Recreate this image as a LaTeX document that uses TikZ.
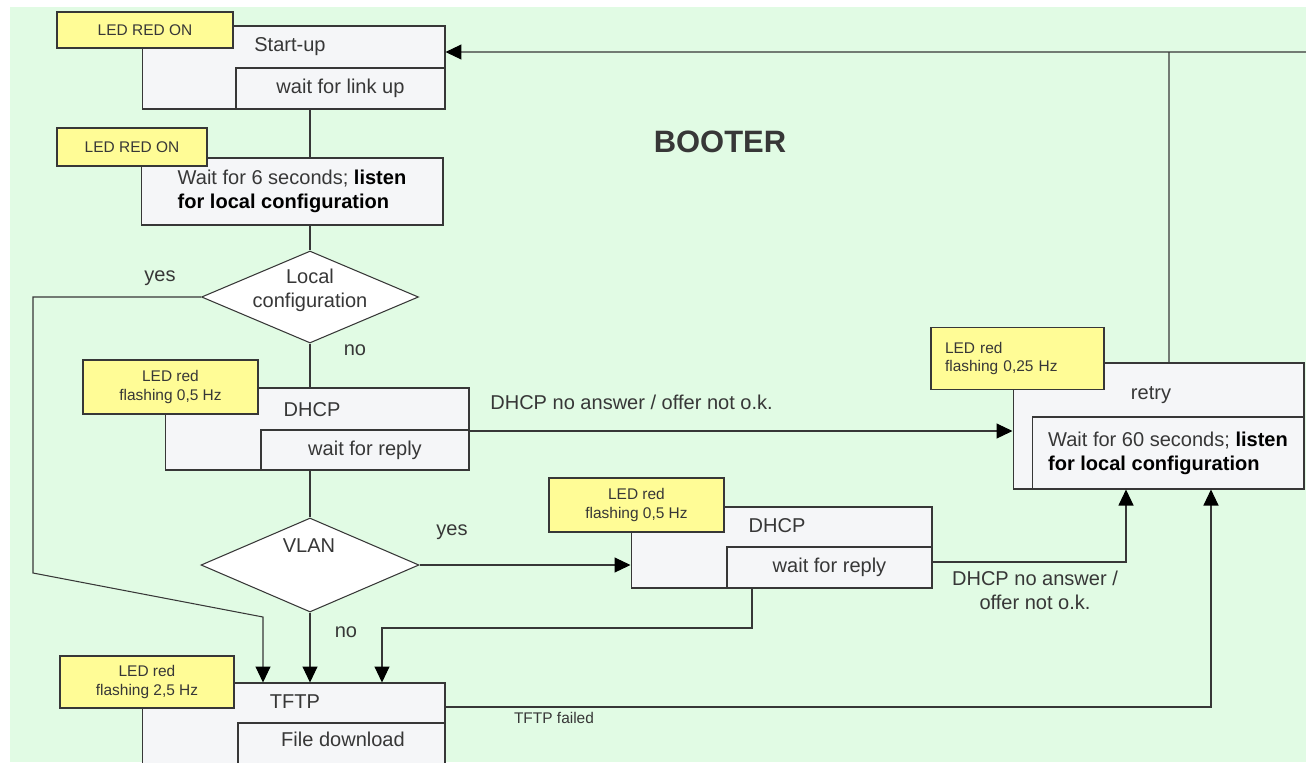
\documentclass[tikz,border=0pt]{standalone}
\usepackage{fontspec}
\setmainfont{Liberation Sans}
\usetikzlibrary{shapes.geometric, arrows.meta}

\definecolor{mint}{RGB}{225,251,228}
\definecolor{ledyellow}{RGB}{255,252,150}
\definecolor{boxwhite}{RGB}{245,246,248}
\definecolor{ink}{RGB}{55,55,55}

\tikzset{
  stbox/.style={draw=ink, fill=boxwhite, line width=0.6pt, inner sep=0pt, align=left,
    font=\fontsize{11.4}{13.5}\selectfont, text=ink},
  subbox/.style={draw=ink, fill=boxwhite, line width=0.6pt, inner sep=0pt,
    font=\fontsize{11.4}{13.5}\selectfont, text=ink},
  ledbox/.style={draw=ink, fill=ledyellow, line width=0.6pt, inner sep=0pt, align=center,
    font=\fontsize{8.8}{10.8}\selectfont, text=ink},
  decision/.style={diamond, draw=ink, fill=white, line width=0.6pt, inner sep=0pt},
  lbl/.style={font=\fontsize{11.4}{13.5}\selectfont, text=ink, inner sep=0pt, align=center},
  smalllbl/.style={font=\fontsize{8.8}{10.8}\selectfont, text=ink, inner sep=0pt},
  conn/.style={draw=ink, line width=0.6pt},
  arr/.style={conn, -{Triangle[length=0.32cm, width=0.3cm, color=black]}},
}

\begin{document}
\begin{tikzpicture}[x=0.02cm, y=-0.02cm]
        \useasboundingbox (0,0) rectangle (1306,762);
        \clip (0,0) rectangle (1306,762);
        \fill[mint] (10,7) rectangle (1306,762);

        % Start-up
        \node[stbox, minimum width=6.06cm, minimum height=1.66cm] (startup) at (293.5,67.5) {};
        \node[subbox, minimum width=4.18cm, minimum height=0.82cm] (startupwait) at (340.5,88.5) {wait for link up};
        \node[ledbox, minimum width=3.52cm, minimum height=0.72cm] (startupled) at (145,30) {LED RED ON};
        \node[lbl] (startuptxt) at (290,47) {Start-up};

        % Local configuration window
        \node[stbox, minimum width=6.04cm, minimum height=1.34cm] (wait6) at (292,191.5)
            {Wait for 6 seconds; \textbf{\color{black}listen}\\\textbf{\color{black}for local configuration}};
        \node[ledbox, minimum width=3.0cm, minimum height=0.76cm] (wait6led) at (132,147) {LED RED ON};

        \node[font=\fontsize{17.6}{20}\selectfont\bfseries, text=ink] (title) at (720,142) {BOOTER};

        % Decisions
        \node[decision, minimum width=4.34cm, minimum height=1.84cm] (local) at (310,297) {};
        \node[lbl] (localtxt) at (310,290) {Local\\configuration};
        \node[decision, minimum width=4.36cm, minimum height=1.88cm] (vlan) at (310,565) {};
        \node[lbl] (vlantxt) at (309,546) {VLAN};

        % DHCP
        \node[stbox, minimum width=6.08cm, minimum height=1.64cm] (dhcp) at (317,429) {};
        \node[subbox, minimum width=4.16cm, minimum height=0.80cm] (dhcpwait) at (365,450) {wait for reply};
        \node[ledbox, minimum width=3.5cm, minimum height=1.08cm] (dhcpled) at (170.5,387) {LED red\\flashing 0,5 Hz};
        \node[lbl] (dhcptxt) at (312,410) {DHCP};

        % DHCP after VLAN
        \node[stbox, minimum width=6.02cm, minimum height=1.62cm] (dhcp2) at (781.5,547.5) {};
        \node[subbox, minimum width=4.1cm, minimum height=0.82cm] (dhcp2wait) at (829.5,567.5) {wait for reply};
        \node[ledbox, minimum width=3.5cm, minimum height=1.08cm] (dhcp2led) at (636.5,505) {LED red\\flashing 0,5 Hz};
        \node[lbl] (dhcp2txt) at (777,526) {DHCP};

        % Retry
        \node[stbox, minimum width=5.82cm, minimum height=2.52cm] (retry) at (1158.5,426) {};
        \node[stbox, minimum width=5.44cm, minimum height=1.44cm] (retrywait) at (1168,453)
            {Wait for 60 seconds; \textbf{\color{black}listen}\\\textbf{\color{black}for local configuration}};
        \node[ledbox, align=left, text width=2.9cm, inner sep=0.28cm, minimum height=1.14cm] (retryled) at (1017.5,358.5)
            {LED red\\flashing 0,25 Hz};
        \node[lbl] (retrytxt) at (1151,395) {retry};

        % TFTP
        \node[stbox, minimum width=6.06cm, minimum height=2.4cm] (tftp) at (293.5,743) {};
        \node[subbox, minimum width=4.14cm, minimum height=1.6cm] (tftpload) at (341.5,763) {};
        \node[lbl] (tftploadtxt) at (343,739) {File download};
        \node[ledbox, minimum width=3.48cm, minimum height=1.04cm] (tftpled) at (147,682) {LED red\\flashing 2,5 Hz};
        \node[lbl] (tftptxt) at (295,702) {TFTP};

        % Helper points
        \coordinate (offright) at (1306,52);
        \coordinate (tee) at (1169,52);
        \coordinate (yesbend) at (33,573);
        \coordinate (yeskink) at (263,617);
        \coordinate (dljoin) at (382,628);

        % Connections
        \draw[arr] (offright) -- ([yshift=0.31cm]startup.east);
        \draw[conn] ([xshift=0.21cm]retry.north) -- (tee);
        \draw[conn] (startup.south -| local) -- (wait6.north -| local);
        \draw[conn] (wait6.south -| local) -- (local.north);
        \draw[arr] (local.west) -| (yesbend) -- (yeskink) -- (yeskink |- tftp.north);
        \draw[conn] (local.south) -- (dhcp.north -| local);
        \draw[arr] ([yshift=-0.04cm]dhcp.east) -- ([yshift=-0.04cm]dhcp.east -| retry.west);
        \draw[conn] (dhcp.south -| vlan) -- (vlan.north);
        \draw[arr] (vlan.east) -- (vlan.east -| dhcp2.west);
        \draw[arr] (vlan.south) -- (tftp.north -| vlan);
        \draw[arr] ([xshift=-0.59cm]dhcp2.south) |- (dljoin) -- (dljoin |- tftp.north);
        \draw[arr] ([yshift=-0.29cm]dhcp2.east) -| ([xshift=-0.65cm]retry.south);
        \draw[arr] ([yshift=0.72cm]tftp.east) -| ([xshift=1.05cm]retry.south);

        % Labels
        \node[lbl] (yes1) at (160,278) {yes};
        \node[lbl] (no1) at (355,350) {no};
        \node[lbl] (yes2) at (452,532) {yes};
        \node[lbl] (no2) at (346,632) {no};
        \node[lbl, anchor=west] (dhcpfail) at (490,402) {DHCP no answer / offer not o.k.};
        \node[lbl] (dhcp2fail) at (1035,590) {DHCP no answer /\\offer not o.k.};
        \node[smalllbl] (tftpfail) at (554,718) {TFTP failed};
    \end{tikzpicture}
\end{document}
